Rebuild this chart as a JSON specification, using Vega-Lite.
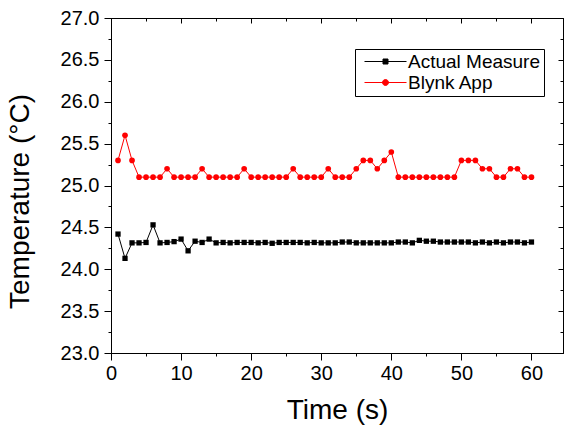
{
  "$schema": "https://vega.github.io/schema/vega-lite/v6.json",
  "autosize": "none",
  "width": 452,
  "height": 335,
  "padding": {"left": 111, "top": 18, "right": 3, "bottom": 77},
  "background": "white",
  "config": {
    "font": "Liberation Sans",
    "view": {"stroke": "black", "strokeWidth": 1},
    "axis": {"grid": false, "domainColor": "black", "tickColor": "black", "labelColor": "black", "titleColor": "black", "labelFont": "Liberation Sans", "titleFont": "Liberation Sans", "titleFontWeight": "normal"}
  },
  "datasets": {
    "temps": [
      {"t":1,"v":24.42,"s":"Actual Measure"},{"t":2,"v":24.13,"s":"Actual Measure"},{"t":3,"v":24.315,"s":"Actual Measure"},{"t":4,"v":24.315,"s":"Actual Measure"},{"t":5,"v":24.32,"s":"Actual Measure"},{"t":6,"v":24.53,"s":"Actual Measure"},{"t":7,"v":24.315,"s":"Actual Measure"},{"t":8,"v":24.32,"s":"Actual Measure"},{"t":9,"v":24.33,"s":"Actual Measure"},{"t":10,"v":24.36,"s":"Actual Measure"},
      {"t":11,"v":24.22,"s":"Actual Measure"},{"t":12,"v":24.335,"s":"Actual Measure"},{"t":13,"v":24.32,"s":"Actual Measure"},{"t":14,"v":24.36,"s":"Actual Measure"},{"t":15,"v":24.315,"s":"Actual Measure"},{"t":16,"v":24.32,"s":"Actual Measure"},{"t":17,"v":24.315,"s":"Actual Measure"},{"t":18,"v":24.32,"s":"Actual Measure"},{"t":19,"v":24.32,"s":"Actual Measure"},{"t":20,"v":24.32,"s":"Actual Measure"},
      {"t":21,"v":24.315,"s":"Actual Measure"},{"t":22,"v":24.32,"s":"Actual Measure"},{"t":23,"v":24.31,"s":"Actual Measure"},{"t":24,"v":24.32,"s":"Actual Measure"},{"t":25,"v":24.32,"s":"Actual Measure"},{"t":26,"v":24.32,"s":"Actual Measure"},{"t":27,"v":24.32,"s":"Actual Measure"},{"t":28,"v":24.315,"s":"Actual Measure"},{"t":29,"v":24.32,"s":"Actual Measure"},{"t":30,"v":24.315,"s":"Actual Measure"},
      {"t":31,"v":24.315,"s":"Actual Measure"},{"t":32,"v":24.315,"s":"Actual Measure"},{"t":33,"v":24.325,"s":"Actual Measure"},{"t":34,"v":24.325,"s":"Actual Measure"},{"t":35,"v":24.315,"s":"Actual Measure"},{"t":36,"v":24.315,"s":"Actual Measure"},{"t":37,"v":24.315,"s":"Actual Measure"},{"t":38,"v":24.315,"s":"Actual Measure"},{"t":39,"v":24.315,"s":"Actual Measure"},{"t":40,"v":24.315,"s":"Actual Measure"},
      {"t":41,"v":24.325,"s":"Actual Measure"},{"t":42,"v":24.325,"s":"Actual Measure"},{"t":43,"v":24.315,"s":"Actual Measure"},{"t":44,"v":24.345,"s":"Actual Measure"},{"t":45,"v":24.335,"s":"Actual Measure"},{"t":46,"v":24.335,"s":"Actual Measure"},{"t":47,"v":24.325,"s":"Actual Measure"},{"t":48,"v":24.325,"s":"Actual Measure"},{"t":49,"v":24.325,"s":"Actual Measure"},{"t":50,"v":24.325,"s":"Actual Measure"},
      {"t":51,"v":24.325,"s":"Actual Measure"},{"t":52,"v":24.315,"s":"Actual Measure"},{"t":53,"v":24.325,"s":"Actual Measure"},{"t":54,"v":24.315,"s":"Actual Measure"},{"t":55,"v":24.325,"s":"Actual Measure"},{"t":56,"v":24.315,"s":"Actual Measure"},{"t":57,"v":24.325,"s":"Actual Measure"},{"t":58,"v":24.325,"s":"Actual Measure"},{"t":59,"v":24.315,"s":"Actual Measure"},{"t":60,"v":24.325,"s":"Actual Measure"},
      {"t":1,"v":25.3,"s":"Blynk App"},{"t":2,"v":25.6,"s":"Blynk App"},{"t":3,"v":25.3,"s":"Blynk App"},{"t":4,"v":25.1,"s":"Blynk App"},{"t":5,"v":25.1,"s":"Blynk App"},{"t":6,"v":25.1,"s":"Blynk App"},{"t":7,"v":25.1,"s":"Blynk App"},{"t":8,"v":25.2,"s":"Blynk App"},{"t":9,"v":25.1,"s":"Blynk App"},{"t":10,"v":25.1,"s":"Blynk App"},
      {"t":11,"v":25.1,"s":"Blynk App"},{"t":12,"v":25.1,"s":"Blynk App"},{"t":13,"v":25.2,"s":"Blynk App"},{"t":14,"v":25.1,"s":"Blynk App"},{"t":15,"v":25.1,"s":"Blynk App"},{"t":16,"v":25.1,"s":"Blynk App"},{"t":17,"v":25.1,"s":"Blynk App"},{"t":18,"v":25.1,"s":"Blynk App"},{"t":19,"v":25.2,"s":"Blynk App"},{"t":20,"v":25.1,"s":"Blynk App"},
      {"t":21,"v":25.1,"s":"Blynk App"},{"t":22,"v":25.1,"s":"Blynk App"},{"t":23,"v":25.1,"s":"Blynk App"},{"t":24,"v":25.1,"s":"Blynk App"},{"t":25,"v":25.1,"s":"Blynk App"},{"t":26,"v":25.2,"s":"Blynk App"},{"t":27,"v":25.1,"s":"Blynk App"},{"t":28,"v":25.1,"s":"Blynk App"},{"t":29,"v":25.1,"s":"Blynk App"},{"t":30,"v":25.1,"s":"Blynk App"},
      {"t":31,"v":25.2,"s":"Blynk App"},{"t":32,"v":25.1,"s":"Blynk App"},{"t":33,"v":25.1,"s":"Blynk App"},{"t":34,"v":25.1,"s":"Blynk App"},{"t":35,"v":25.2,"s":"Blynk App"},{"t":36,"v":25.3,"s":"Blynk App"},{"t":37,"v":25.3,"s":"Blynk App"},{"t":38,"v":25.2,"s":"Blynk App"},{"t":39,"v":25.3,"s":"Blynk App"},{"t":40,"v":25.4,"s":"Blynk App"},
      {"t":41,"v":25.1,"s":"Blynk App"},{"t":42,"v":25.1,"s":"Blynk App"},{"t":43,"v":25.1,"s":"Blynk App"},{"t":44,"v":25.1,"s":"Blynk App"},{"t":45,"v":25.1,"s":"Blynk App"},{"t":46,"v":25.1,"s":"Blynk App"},{"t":47,"v":25.1,"s":"Blynk App"},{"t":48,"v":25.1,"s":"Blynk App"},{"t":49,"v":25.1,"s":"Blynk App"},{"t":50,"v":25.3,"s":"Blynk App"},
      {"t":51,"v":25.3,"s":"Blynk App"},{"t":52,"v":25.3,"s":"Blynk App"},{"t":53,"v":25.2,"s":"Blynk App"},{"t":54,"v":25.2,"s":"Blynk App"},{"t":55,"v":25.1,"s":"Blynk App"},{"t":56,"v":25.1,"s":"Blynk App"},{"t":57,"v":25.2,"s":"Blynk App"},{"t":58,"v":25.2,"s":"Blynk App"},{"t":59,"v":25.1,"s":"Blynk App"},{"t":60,"v":25.1,"s":"Blynk App"}
    ]
  },
  "data": {"name": "temps"},
  "layer": [
    {
      "transform": [{"filter": "datum.s === 'Actual Measure'"}],
      "mark": {"type": "line", "strokeWidth": 1, "color": "black", "point": {"filled": true, "shape": "square", "size": 28, "color": "black", "opacity": 1}},
      "encoding": {
        "x": {"field": "t", "type": "quantitative", "scale": {"domain": [0, 64.5], "nice": false, "zero": false},
          "axis": {"orient": "bottom", "title": "Time (s)", "values": [0,5,10,15,20,25,30,35,40,45,50,55,60],
            "labelExpr": "datum.value % 10 === 0 ? datum.label : ''", "labelFontSize": 20, "labelPadding": 3,
            "tickSize": {"condition": {"test": "datum.value % 10 === 0", "value": 7}, "value": 3},
            "titleFontSize": 28, "titlePadding": 13, "labelFlush": false, "labelOverlap": false}},
        "y": {"field": "v", "type": "quantitative", "scale": {"domain": [23, 27], "nice": false, "zero": false},
          "axis": {"orient": "left", "title": "Temperature (°C)", "values": [23,23.25,23.5,23.75,24,24.25,24.5,24.75,25,25.25,25.5,25.75,26,26.25,26.5,26.75,27],
            "format": ".1f", "labelExpr": "datum.value * 2 % 1 === 0 ? datum.label : ''", "labelFontSize": 20, "labelPadding": 5,
            "tickSize": {"condition": {"test": "datum.value * 2 % 1 === 0", "value": 7}, "value": 3},
            "titleFontSize": 28, "titlePadding": 26, "titleY": 183, "labelFlush": false, "labelOverlap": false}}
      }
    },
    {
      "transform": [{"filter": "datum.s === 'Blynk App'"}],
      "mark": {"type": "line", "strokeWidth": 1, "color": "#ff0000", "point": {"filled": true, "shape": "circle", "size": 32, "color": "#ff0000", "opacity": 1}},
      "encoding": {
        "x": {"field": "t", "type": "quantitative", "axis": null},
        "y": {"field": "v", "type": "quantitative", "axis": null}
      }
    },
    {
      "mark": {"type": "point", "opacity": 0},
      "encoding": {
        "x": {"field": "t", "type": "quantitative",
          "axis": {"orient": "top", "title": null, "labels": false, "values": [0,5,10,15,20,25,30,35,40,45,50,55,60],
            "tickSize": {"condition": {"test": "datum.value % 10 === 0", "value": -5}, "value": -3}}},
        "y": {"field": "v", "type": "quantitative",
          "axis": {"orient": "right", "title": null, "labels": false, "values": [23,23.25,23.5,23.75,24,24.25,24.5,24.75,25,25.25,25.5,25.75,26,26.25,26.5,26.75,27],
            "tickSize": {"condition": {"test": "datum.value * 2 % 1 === 0", "value": -5}, "value": -3}}}
      }
    },
    {
      "transform": [{"filter": "datum.t < 0"}],
      "mark": {"type": "point", "filled": true, "opacity": 1, "strokeWidth": 1},
      "encoding": {
        "color": {"field": "s", "type": "nominal", "scale": {"domain": ["Actual Measure", "Blynk App"], "range": ["black", "#ff0000"]},
          "legend": {"title": null, "orient": "none", "legendX": 244, "legendY": 31, "strokeColor": "black", "padding": 3,
            "labelFontSize": 19, "labelFont": "Liberation Sans", "labelColor": "black", "rowPadding": 1,
            "symbolSize": 100, "symbolOffset": 18, "labelOffset": 13, "symbolStrokeWidth": 1, "symbolOpacity": 1}},
        "stroke": {"field": "s", "type": "nominal", "scale": {"domain": ["Actual Measure", "Blynk App"], "range": ["black", "#ff0000"]},
          "legend": {"title": null, "orient": "none", "legendX": 244, "legendY": 31}},
        "shape": {"field": "s", "type": "nominal", "scale": {"domain": ["Actual Measure", "Blynk App"], "range": ["M-4.2,0H4.2M-0.5,-0.5H0.5V0.5H-0.5Z", "M-4.2,0H4.2M0.6,0A0.6,0.6,0,1,1,-0.6,0A0.6,0.6,0,1,1,0.6,0Z"]},
          "legend": {"title": null, "orient": "none", "legendX": 244, "legendY": 31}}
      }
    }
  ],
  "resolve": {"axis": {"x": "independent", "y": "independent"}}
}
